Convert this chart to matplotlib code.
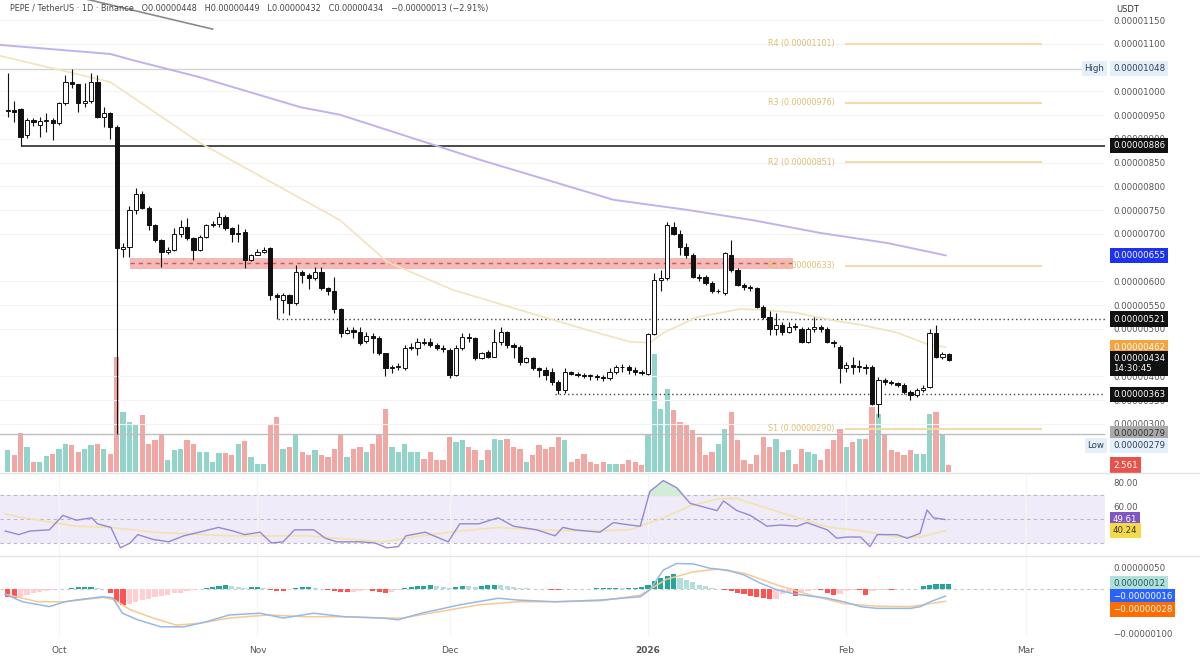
import numpy as np
import matplotlib.pyplot as plt
from matplotlib.lines import Line2D
from matplotlib.transforms import blended_transform_factory

# -----------------------------
# Data (prices in units of 1e-8 USDT, x = days since 1 Oct 2025)
# -----------------------------
days = np.arange(-8, 140)

opens = [958, 961, 963, 908, 940, 930, 937, 940, 933, 975,
         1021, 1015, 975, 979, 1021, 947, 954, 926, 668, 673,
         750, 785, 754, 719, 687, 663, 666, 701, 715, 691,
         666, 694, 719, 720, 736, 712, 701, 705, 645, 656,
         663, 670, 572, 561, 571, 554, 621, 614, 607, 621,
         586, 579, 543, 491, 497, 494, 475, 486, 482, 449,
         417, 420, 417, 459, 459, 473, 473, 466, 459, 456,
         403, 459, 484, 480, 438, 452, 442, 473, 494, 466,
         463, 431, 438, 417, 414, 410, 389, 371, 410, 406,
         403, 403, 400, 399, 396, 410, 420, 420, 413, 410,
         406, 490, 603, 607, 715, 701, 673, 656, 610, 610,
         596, 579, 575, 656, 624, 593, 589, 586, 547, 526,
         501, 508, 494, 505, 501, 473, 501, 505, 501, 473,
         463, 417, 424, 420, 420, 420, 343, 393, 389, 386,
         382, 368, 361, 371, 378, 491, 441, 448]
highs = [1038, 979, 966, 945, 944, 947, 954, 944, 978, 1035,
         1048, 1016, 1017, 1038, 1035, 968, 957, 930, 680, 758,
         796, 790, 758, 722, 690, 672, 712, 729, 733, 694,
         698, 722, 727, 747, 740, 715, 722, 710, 658, 668,
         672, 672, 575, 575, 573, 635, 624, 617, 631, 631,
         589, 610, 545, 505, 505, 505, 494, 491, 486, 450,
         424, 428, 466, 470, 480, 480, 480, 470, 466, 459,
         466, 491, 491, 484, 452, 456, 501, 505, 496, 470,
         466, 441, 441, 420, 420, 417, 392, 417, 412, 410,
         408, 406, 406, 403, 417, 424, 427, 424, 420, 413,
         491, 617, 624, 726, 726, 708, 680, 660, 615, 614,
         600, 584, 663, 687, 628, 596, 593, 589, 551, 537,
         533, 515, 515, 512, 505, 505, 526, 508, 505, 477,
         466, 431, 441, 434, 427, 424, 398, 396, 392, 389,
         386, 371, 375, 382, 501, 508, 452, 449]
lows = [947, 936, 886, 903, 928, 905, 915, 898, 930, 972,
        1007, 957, 968, 975, 945, 926, 901, 279, 652, 652,
        743, 752, 708, 684, 631, 658, 664, 694, 687, 645,
        664, 692, 715, 715, 708, 684, 684, 628, 643, 655,
        659, 560, 521, 533, 529, 551, 596, 585, 603, 582,
        572, 533, 484, 489, 480, 466, 470, 449, 445, 400,
        408, 414, 414, 456, 445, 466, 463, 456, 452, 396,
        400, 456, 473, 434, 436, 438, 440, 466, 459, 438,
        424, 429, 413, 399, 392, 382, 363, 366, 403, 399,
        396, 392, 392, 390, 392, 406, 410, 406, 403, 403,
        404, 487, 579, 603, 698, 656, 649, 607, 600, 593,
        575, 575, 572, 621, 590, 582, 579, 544, 522, 487,
        487, 487, 491, 498, 470, 470, 494, 494, 470, 463,
        386, 410, 406, 410, 406, 339, 315, 382, 382, 378,
        364, 351, 357, 368, 375, 438, 436, 432]
closes = [961, 957, 905, 940, 935, 937, 940, 933, 975, 1021,
          1015, 975, 979, 1021, 947, 954, 926, 670, 672, 750,
          785, 754, 719, 687, 663, 666, 701, 715, 691, 666,
          694, 719, 720, 736, 712, 701, 703, 645, 656, 663,
          666, 572, 568, 571, 554, 621, 614, 607, 621, 586,
          579, 543, 491, 497, 494, 470, 486, 482, 449, 417,
          420, 422, 459, 463, 473, 470, 466, 459, 458, 403,
          459, 484, 480, 438, 449, 442, 473, 494, 466, 463,
          431, 438, 417, 414, 403, 389, 371, 410, 406, 403,
          402, 400, 399, 396, 410, 420, 419, 413, 410, 408,
          490, 603, 607, 719, 701, 673, 656, 610, 607, 596,
          579, 580, 659, 624, 593, 589, 586, 547, 526, 501,
          508, 494, 505, 504, 473, 501, 505, 501, 473, 470,
          417, 424, 420, 421, 417, 343, 393, 389, 386, 382,
          368, 361, 371, 375, 491, 441, 448, 434]

# volume in trillions
volumes = [8.1, 6.2, 14.3, 9.2, 3.7, 3.7, 5.9, 6.6, 8.4, 10.2,
           9.9, 7.3, 8.4, 9.9, 10.2, 8.4, 6.6, 42.1, 22.0, 18.3,
           17.6, 20.9, 10.2, 11.7, 13.9, 4.4, 8.1, 8.4, 11.7, 10.2,
           7.3, 7.3, 3.7, 7.0, 7.0, 6.2, 10.2, 11.3, 5.5, 2.9,
           2.9, 17.6, 20.1, 8.4, 9.2, 13.9, 7.3, 6.2, 8.1, 6.2,
           5.5, 8.4, 13.5, 5.5, 8.4, 9.2, 7.3, 10.2, 13.5, 23.1,
           9.2, 7.3, 10.2, 7.3, 7.3, 4.8, 7.3, 4.4, 4.4, 12.8,
           11.0, 11.7, 9.2, 8.1, 4.4, 8.1, 12.1, 11.7, 12.1, 9.2,
           8.4, 3.7, 6.2, 9.9, 8.4, 9.2, 12.8, 11.7, 3.7, 4.8,
           6.6, 3.7, 2.9, 3.7, 2.9, 2.9, 2.9, 4.4, 3.7, 2.6,
           13.5, 43.2, 23.1, 30.4, 22.7, 18.3, 17.2, 15.4, 12.8, 6.2,
           7.3, 10.2, 15.7, 22.0, 11.7, 4.4, 2.9, 6.2, 12.8, 9.2,
           12.1, 7.3, 8.1, 2.9, 8.4, 7.3, 6.6, 4.4, 8.4, 11.7,
           15.7, 9.2, 11.0, 12.1, 12.1, 23.8, 21.2, 13.9, 8.1, 7.3,
           6.2, 8.1, 6.6, 6.6, 21.2, 22.0, 13.5, 2.561]

# MACD histogram (1e-8)
macd_hist = [-19, -20, -18, -14, -10, -7, -4, -2, 0.5, 1,
             3, 4, 4, 5, 3, 1, -10, -30, -36, -34,
             -30, -26, -22, -19, -16, -13, -10, -8, -5, -3,
             -1, 2, 4, 6, 8, 7, 5, 3, 4, 5,
             3, -2, -4, -5, -3, 2, 4, 5, 3, 1,
             -3, -5, -6, -7, -6, -4, -2, -5, -7, -8,
             -6, -2, 2, 4, 6, 7, 8, 7, 5, 3,
             5, 7, 6, 4, 6, 8, 10, 9, 6, 4,
             3, 2, 1, 0.5, -1, -2, -2, -1, 0.5, 1,
             1, 1, 2, 2, 2, 3, 2, 2, 3, 4,
             10, 18, 24, 30, 33, 26, 20, 15, 10, 6,
             3, 1, -2, -5, -8, -12, -15, -18, -21, -23,
             -22, -12, -8, -16, -6, -4, -3, -3, -10, -13,
             -11, -5, -3, -3, -13, -4, -3, -2, -2, -1,
             -1, -1, 1, 6, 9, 11, 12, 12]

# moving averages
ma200_x = [-9.2, 8, 11.5, 22, 37.7, 43.9, 65.8, 86.6, 98, 108.4, 119, 129.4, 138.5]
ma200_y = [1098, 1079, 1066, 1030, 967, 951, 856, 772, 751, 729, 702, 681, 655]
ma50_x = [-9.2, 8, 22, 43.9, 51.3, 61.6, 72, 82.5, 89.2, 92.3, 94.4, 99.7, 106.4,
          110, 115.3, 120.5, 125.6, 131, 136, 138.5]
ma50_y = [1075, 1020, 892, 729, 641, 582, 540, 498, 473, 471, 492, 525, 542,
          540, 534, 519, 508, 492, 466, 462]

rsi_x = [-8.4, -6.3, -4.5, -1.5, 0.6, 2.7, 5.1, 6, 8.1, 9.6, 11.1, 12.3, 14.7, 17.1,
         19.5, 21.9, 24.9, 27.2, 29, 31.4, 33.2, 35, 36.8, 39.8, 41.6, 43.4, 47, 49.4,
         51.2, 53, 54.2, 57.2, 60.8, 62.6, 65.6, 68.6, 71, 74.6, 77.5, 78.7, 80.5,
         84.5, 86.6, 89.2, 90.8, 92.3, 94.4, 96.5, 98.6, 100.7, 102.8, 103.8, 105.9,
         108, 110.6, 112.7, 115.3, 116.8, 117.9, 120, 121.5, 123.1, 125.2, 126.7,
         127.8, 130.9, 132.5, 134.5, 135.6, 136.6, 138.4]
rsi_y = [40, 37, 40, 41, 53, 49, 51, 46, 43, 26, 30, 37, 33, 31,
         36, 39, 43, 40, 37, 39, 30, 31, 41, 41, 34, 31, 31, 30,
         26, 27, 36, 39, 31, 46, 46, 51, 44, 41, 36, 43, 41,
         39, 47, 45, 44, 73, 82, 76, 63, 60, 57, 65, 57,
         53, 44, 45, 44, 47, 45, 41, 34, 35, 35, 27,
         37, 37, 34, 38, 57.5, 51, 49.6]
rsima_x = [-8.4, -3.3, 2.7, 8.1, 14.7, 26.6, 38.6, 50.6, 56.6, 62.6, 68.6, 74.6, 81.4,
           89.2, 94.4, 98.6, 103.3, 105.9, 110, 115.3, 120.5, 125.6, 130.9, 134.5, 138.4]
rsima_y = [54, 49, 44, 43, 39, 36, 36, 31, 36, 40, 43, 41, 40,
           41, 51, 61, 67, 67, 60, 51, 43, 40, 35, 35, 40.2]

macd_x = [-8.4, -5.7, -1.5, 0.9, 2.7, 6.9, 8.4, 9.9, 12.3, 15.9, 19.5, 23.1, 26.6, 31.4,
          35, 39.8, 44.6, 50.6, 53, 56.6, 62.6, 68.6, 71.6, 77.5, 84.6, 90.8, 92.3, 94.4,
          96.5, 99.1, 101.7, 104.4, 107, 109.6, 112.2, 114.8, 117.4, 120, 122.6, 125.2,
          127.8, 133, 134.6, 136.1, 138.5]
macd_y = [-12, -29, -40, -29, -25, -17.5, -20, -55, -70, -86, -86, -74, -59, -55,
          -66, -55, -63, -66, -70, -55, -36, -21, -25, -29, -25, -17.5, -2, 43,
          58, 57, 47, 43, 32, 13, -2, -11, -16, -21, -29, -40,
          -44, -44, -40, -29, -16]
signal_x = [-8.4, -3.3, 0.9, 6.9, 8.7, 11.1, 14.7, 18.3, 21.9, 26.6, 32.6, 38.6, 44.6,
            50.6, 53.6, 59.6, 65.6, 71.6, 77.5, 84.6, 90.8, 94.9, 99.1, 102.8, 107,
            112.2, 117.4, 122.6, 127.8, 133, 138.5]
signal_y = [-12, -29, -29, -19, -25, -47, -66, -82, -78, -66, -59, -63, -63,
            -66, -66, -51, -36, -29, -29, -27, -14, 22, 39, 45, 36,
            9, -14, -33, -39, -40, -28]

# levels
high_level, low_level = 1048, 279
pivot_names = ["R4", "R3", "R2", "R1", "S1"]
pivot_levels = [1101, 976, 851, 633, 290]
zone_low, zone_high, zone_mid = 627, 650, 639
zone_from, zone_to = 11.1, 114.7
line_886_from = -6
dotted_levels = [521, 363]
dotted_from = [34.2, 77.5]
trend_x = [2, 24]
trend_y = [1201.6, 1131.3]

price_ticks = [300, 350, 400, 500, 550, 600, 700, 750, 800, 850, 900, 950, 1000, 1100, 1150]
month_pos = [0, 31, 61, 92, 123, 151]
month_lab = ["Oct", "Nov", "Dec", "2026", "Feb", "Mar"]

# -----------------------------
# Figure layout
# -----------------------------
W, H = 1200, 658
fig = plt.figure(figsize=(12, 6.58), dpi=100)
pw = 1105 / W
ax = fig.add_axes([0, 1 - 472 / H, pw, 472 / H])
axr = fig.add_axes([0, 1 - 556 / H, pw, 83 / H])
axm = fig.add_axes([0, 1 - 636 / H, pw, 80 / H])
axv = ax.twinx()
ax.set_zorder(axv.get_zorder() + 1)
ax.patch.set_visible(False)

xlim = (-9.22, 163.4)
for a in (ax, axr, axm, axv):
    a.set_xlim(*xlim)
    for s in a.spines.values():
        s.set_visible(False)

ax.set_ylim(198.9, 1192.6)
axv.set_ylim(0, 172.8)
axr.set_ylim(19.2, 88.3)
axm.set_ylim(-106.8, 75)

fs = 6.2
lab_col = "#555555"

def price_fmt(v):
    s = f"{abs(v) * 1e-8:.8f}"
    return ("\u2212" + s) if v < 0 else s

# price ticks
ax.set_yticks(price_ticks)
ax.set_yticklabels([price_fmt(v) for v in price_ticks])
ax.yaxis.tick_right()
ax.tick_params(axis="y", length=0, pad=5.8, labelsize=fs, labelcolor=lab_col)
ax.set_xticks(month_pos)
ax.tick_params(axis="x", length=0, labelbottom=False)
ax.grid(True, color="#f3f3f3", lw=0.8)
ax.set_axisbelow(True)
axv.set_yticks([])
axv.set_xticks([])

# volume
vol_cols = ["#93d4ca" if c >= o else "#f1a7a4" for o, c in zip(opens, closes)]
axv.bar(days, volumes, width=0.82, color=vol_cols, zorder=1)

# horizontal references
ax.axhline(high_level, color="#d4d4d4", lw=1, zorder=1)
ax.axhline(low_level, color="#bdbdbd", lw=1, zorder=1)
ax.hlines(886, line_886_from, xlim[1], color="#2a2a2a", lw=1.2, zorder=2)
for lv, x0 in zip(dotted_levels, dotted_from):
    ax.hlines(lv, x0, xlim[1], color="#444444", lw=1, linestyles=(0, (1, 2)), zorder=2)

# red supply zone
ax.fill_between([zone_from, zone_to], zone_low, zone_high, color="#f2a9a9", alpha=0.8, lw=0, zorder=2)
ax.hlines(zone_mid, zone_from, zone_to, color="#d9534f", lw=1, linestyles=(0, (3, 3)), zorder=2)

# pivot levels
for nm, lv in zip(pivot_names, pivot_levels):
    ax.hlines(lv, 122.8, 153.6, color="#f3dcaa", lw=1.5, zorder=2)
    ax.text(121.2, lv, f"{nm} ({lv * 1e-8:.8f})", ha="right", va="center",
            fontsize=5.8, color="#e0bd73", zorder=6)

# moving averages
ax.plot(ma200_x, ma200_y, color="#b9b5ef", lw=1.4, zorder=3)
ax.plot(ma50_x, ma50_y, color="#f2e3bc", lw=1.2, zorder=3)
ax.plot(trend_x, trend_y, color="#8a8a8a", lw=1.2, zorder=3)

# candles
ax.vlines(days, lows, highs, color="#111111", lw=0.8, zorder=4)
o = np.array(opens, float)
c = np.array(closes, float)
bottoms = np.minimum(o, c)
heights = np.maximum(np.abs(c - o), 1.8)
faces = ["white" if cc >= oo else "#111111" for oo, cc in zip(opens, closes)]
ax.bar(days, heights, bottom=bottoms, width=0.66, color=faces,
       edgecolor="#111111", linewidth=0.7, zorder=5)

# right-side tags
def tag(a, val, text, fc, tc="white", x=1.0072, ha="left"):
    tr = blended_transform_factory(a.transAxes, a.transData)
    a.text(x, val, text, transform=tr, ha=ha, va="center", fontsize=fs, color=tc,
           zorder=30, clip_on=False,
           bbox=dict(boxstyle="square,pad=0.35", fc=fc, ec="none"))

tag(ax, high_level, price_fmt(high_level), "#e4eff9", "#2c3e5c")
tag(ax, high_level, "High", "#e4eff9", "#2c3e5c", x=0.9995, ha="right")
tag(ax, 886, price_fmt(886), "#111111")
tag(ax, 655, price_fmt(655), "#1d32f0")
tag(ax, 521, price_fmt(521), "#111111")
tag(ax, 462, price_fmt(462), "#f5a33c")
tag(ax, 427, price_fmt(closes[-1]) + "\n14:30:45", "#111111")
tag(ax, 363, price_fmt(363), "#111111")
tag(ax, low_level, price_fmt(low_level), "#a9a9a9", "#333333")
tag(ax, 254, price_fmt(low_level), "#e4eff9", "#2c3e5c")
tag(ax, 254, "Low", "#e4eff9", "#2c3e5c", x=0.9995, ha="right")
tag(axv, volumes[-1], f"{volumes[-1]:.3f}", "#e5534b")

# -----------------------------
# RSI panel
# -----------------------------
axr.axhspan(30, 70, color="#efebf8", lw=0, zorder=0)
for lv in (70, 50, 30):
    axr.axhline(lv, color="#b9b6c8", lw=0.8, ls=(0, (3, 3)), zorder=1)
rv = np.array(rsi_y)
axr.fill_between(rsi_x, rv, 70, where=rv > 70, interpolate=True, color="#d3ecd6", zorder=1)
axr.plot(rsima_x, rsima_y, color="#f4e3a8", lw=1.2, zorder=2)
axr.plot(rsi_x, rsi_y, color="#938ad6", lw=1.0, zorder=3)
axr.set_yticks([60, 80])
axr.set_yticklabels(["60.00", "80.00"])
axr.yaxis.tick_right()
axr.tick_params(axis="y", length=0, pad=5.8, labelsize=fs, labelcolor=lab_col)
axr.set_xticks(month_pos)
axr.tick_params(axis="x", length=0, labelbottom=False)
axr.grid(True, axis="x", color="#f4f4f4", lw=0.8)
tag(axr, rsi_y[-1], "49.61", "#7e57c2")
tag(axr, rsima_y[-1], "40.24", "#f5d94a", "#333333")

# -----------------------------
# MACD panel
# -----------------------------
axm.axhline(0, color="#c8c8c8", lw=0.8, ls=(0, (3, 3)), zorder=1)
hist_cols = []
prev = 0
for hv in macd_hist:
    if hv >= 0:
        hist_cols.append("#26a69a" if hv >= prev else "#b2dfdb")
    else:
        hist_cols.append("#ff5252" if hv <= prev else "#ffcdd2")
    prev = hv
axm.bar(days, macd_hist, width=0.8, color=hist_cols, zorder=2)
axm.plot(signal_x, signal_y, color="#f7c993", lw=1.1, zorder=3)
axm.plot(macd_x, macd_y, color="#97b9e6", lw=1.1, zorder=4)
mt = [-100, 50]
axm.set_yticks(mt)
axm.set_yticklabels([price_fmt(v) for v in mt])
axm.yaxis.tick_right()
axm.tick_params(axis="y", length=0, pad=5.8, labelsize=fs, labelcolor=lab_col)
axm.set_xticks(month_pos)
axm.set_xticklabels(month_lab)
axm.tick_params(axis="x", length=0, pad=7, labelsize=6.5, labelcolor=lab_col)
axm.get_xticklabels()[3].set_fontweight("bold")
axm.grid(True, axis="x", color="#f4f4f4", lw=0.8)
tag(axm, macd_hist[-1], price_fmt(macd_hist[-1]), "#b2dfdb", "#1e5e57")
tag(axm, -16, price_fmt(-16), "#2962ff")
tag(axm, -46, price_fmt(-28), "#ff6d00")

# -----------------------------
# Header, separators
# -----------------------------
header = ("PEPE / TetherUS \u00b7 1D \u00b7 Binance   O0.00000448   H0.00000449   "
          "L0.00000432   C0.00000434   \u22120.00000013 (\u22122.91%)")
fig.text(10 / W, 1 - 9 / H, header, fontsize=5.9, color="#444444", va="center")
fig.text(1116 / W, 1 - 10 / H, "USDT", fontsize=6, color="#333333", va="center")
for yp in (473, 556):
    fig.add_artist(Line2D([0, 1], [1 - yp / H] * 2, transform=fig.transFigure,
                          color="#e4e4e4", lw=1))

fig.savefig("out.png", dpi=100)
